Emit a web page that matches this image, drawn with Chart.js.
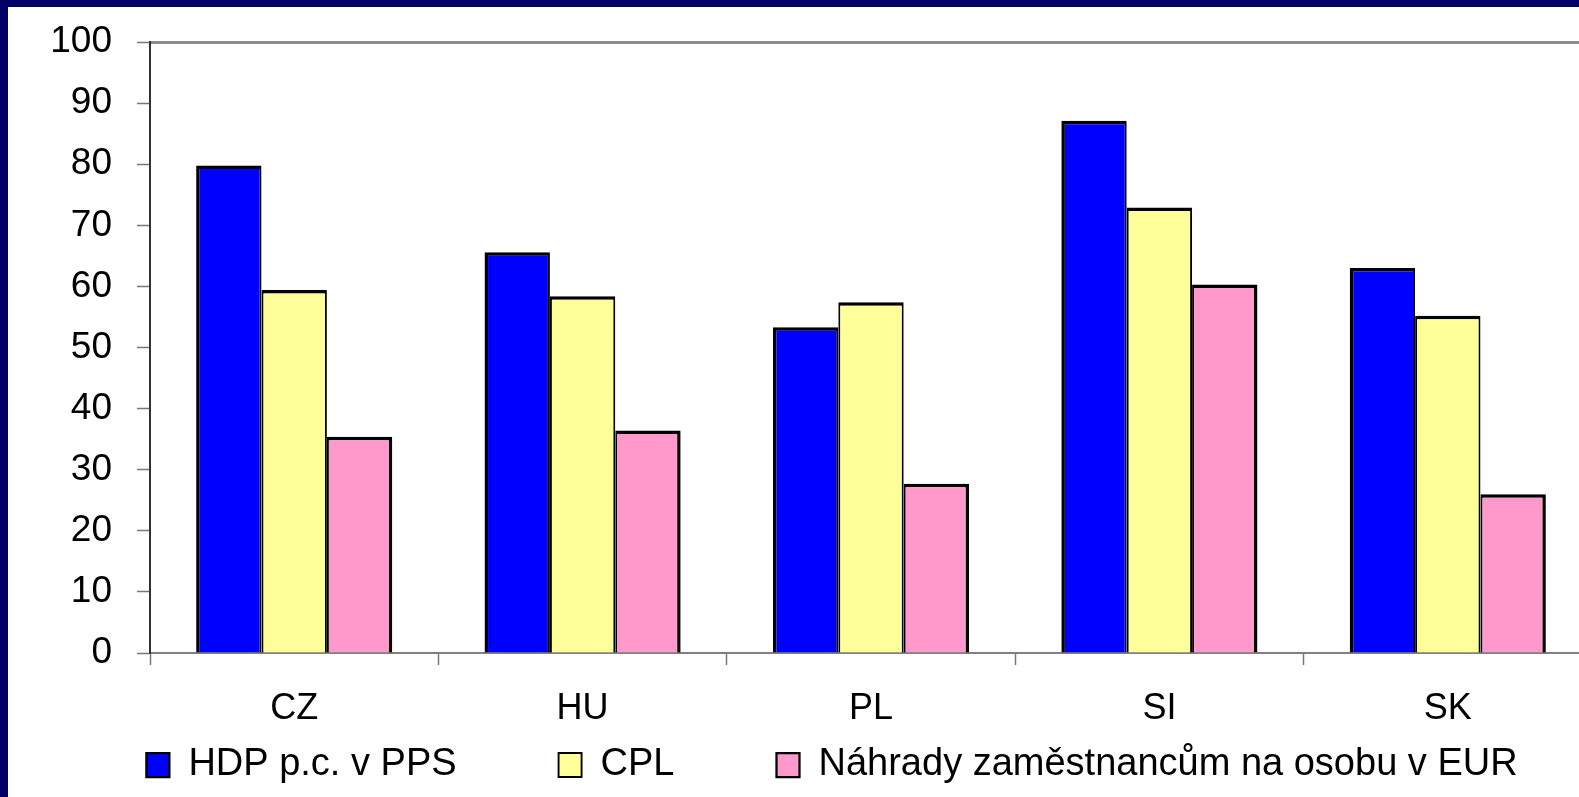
<!DOCTYPE html>
<html>
<head>
<meta charset="utf-8">
<script src="https://cdn.jsdelivr.net/npm/chart.js@4/dist/chart.umd.min.js"></script>
<style>
  html, body { margin: 0; padding: 0; background: #000066; overflow: hidden; }
  #ramec { position: absolute; left: 8px; top: 7px; width: 1648px; height: 790px; background: #fff; }
</style>
</head>
<body>
<div id="ramec"><canvas id="graf" width="1648" height="790"></canvas></div>
<script>
  const zeme = ['CZ', 'HU', 'PL', 'SI', 'SK'];
  const hdpPPS = [79.8, 65.6, 53.3, 87.1, 63.0];
  const cpl = [59.4, 58.4, 57.4, 72.9, 55.2];
  const nahrady = [35.4, 36.4, 27.7, 60.3, 26.0];
  const osaY = { min: 0, max: 100, krok: 10 };

  const pismo = '"Liberation Sans", Arial, sans-serif';

  // legenda ma velky rozestup mezi polozkami, ale nema brat misto nad sebou
  const posunLegendy = {
    id: 'posunLegendy',
    afterLayout(chart) {
      const l = chart.legend;
      const lbl = l.options.labels;
      l.top = l.bottom - lbl.font.size - 10 - lbl.padding;
    }
  };

  const ctx = document.getElementById('graf').getContext('2d');

  const graf = new Chart(ctx, {
    type: 'bar',
    data: {
      labels: zeme,
      datasets: [{
        label: 'HDP p.c. v PPS',
        data: hdpPPS,
        backgroundColor: '#0000ff',
        borderColor: '#000000',
        borderWidth: { top: 3.5, left: 3.5, right: 2, bottom: 0 },
      }, {
        label: 'CPL',
        data: cpl,
        backgroundColor: '#ffff99',
        borderColor: '#000000',
        borderWidth: { top: 3.5, left: 2, right: 2, bottom: 0 },
      }, {
        label: 'Náhrady zaměstnancům na osobu v EUR',
        data: nahrady,
        backgroundColor: '#ff99cc',
        borderColor: '#000000',
        borderWidth: { top: 3.5, left: 2, right: 3.5, bottom: 0 },
      }]
    },
    plugins: [posunLegendy],
    options: {
      responsive: false,
      animation: false,
      categoryPercentage: 0.68,
      barPercentage: 1.0,
      layout: {
        padding: { top: 35, left: 0, right: 0, bottom: 3 }
      },
      plugins: {
        tooltip: { enabled: false },
        title: { display: false },
        legend: {
          display: true,
          position: 'bottom',
          maxHeight: 61,
          labels: {
            color: '#000',
            font: { family: pismo, size: 38 },
            boxWidth: 23,
            boxHeight: 24,
            padding: 102
          }
        }
      },
      scales: {
        x: {
          afterFit: (osa) => { osa.height = 80; },
          grid: {
            drawOnChartArea: false,
            tickLength: 12,
            tickColor: '#777',
            tickWidth: 1.5
          },
          border: { color: '#808080', width: 2 },
          ticks: {
            color: '#000',
            font: { family: pismo, size: 36 },
            padding: 22
          }
        },
        y: {
          min: osaY.min,
          max: osaY.max,
          afterFit: (osa) => {
            osa.width = 142;
            osa.paddingTop = 0;
            osa.paddingBottom = 0;
          },
          grid: {
            drawOnChartArea: true,
            color: (c) => c.tick && c.tick.value === osaY.max ? '#8c8c8c' : 'rgba(0,0,0,0)',
            lineWidth: (c) => c.tick && c.tick.value === osaY.max ? 3 : 1,
            tickLength: 13,
            tickColor: '#777',
            tickWidth: 1.5
          },
          border: { color: '#333', width: 2 },
          ticks: {
            stepSize: osaY.krok,
            autoSkip: false,
            color: '#000',
            font: { family: pismo, size: 37 },
            padding: 25
          }
        },
        // prazdna osa vpravo: plocha grafu konci drive nez legenda
        y2: {
          type: 'linear',
          position: 'right',
          display: true,
          afterFit: (osa) => {
            osa.width = 64;
            osa.paddingTop = 0;
            osa.paddingBottom = 0;
          },
          grid: { display: false },
          border: { display: false },
          ticks: { display: false }
        }
      }
    }
  });
</script>
</body>
</html>
